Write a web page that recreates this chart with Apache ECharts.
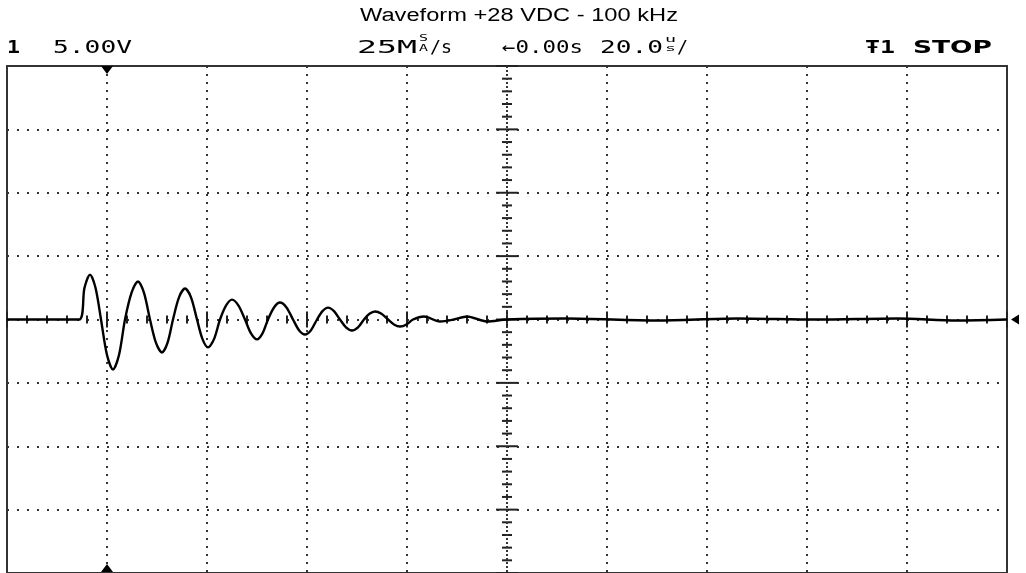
<!DOCTYPE html>
<html>
<head>
<meta charset="utf-8">
<title>Waveform +28 VDC - 100 kHz</title>
<script src="https://cdn.jsdelivr.net/npm/echarts@6/dist/echarts.min.js"></script>
<style>
  html, body { margin: 0; padding: 0; background: #fff; }
  #main { width: 1026px; height: 573px; }
</style>
</head>
<body>
<div id="main"></div>
<script>
// trace: time in microseconds, level in volts
const timeUs = [-100, -85.6, -84.5, -83.4, -82.3, -81.2, -80.0, -78.8, -77.6, -76.4,
  -75.1, -73.8, -72.6, -71.4, -70.2, -69.0, -67.9, -66.8, -65.6, -64.4,
  -63.2, -62.0, -60.9, -59.8, -58.6, -57.4, -56.2, -55.0, -53.7, -52.4,
  -51.2, -50.0, -48.9, -47.8, -46.6, -45.4, -44.1, -42.8, -41.6, -40.4,
  -39.2, -38.0, -36.9, -35.8, -34.6, -33.4, -32.2, -31.0, -29.8, -28.6,
  -27.5, -26.4, -25.1, -23.8, -22.6, -21.4, -20.1, -18.8, -16.6, -13.4,
  -10.6, -8.0, -4.0, 0, 12, 30, 46, 62, 78, 90, 100];
const voltsV = [0, 0, 2.5, 3.54, 2.5, 0, -2.8, -3.94, -2.8, 0,
  2.1, 3.0, 2.1, 0, -1.85, -2.6, -1.85, 0, 1.75, 2.44,
  1.75, 0, -1.55, -2.2, -1.55, 0, 1.1, 1.57, 1.1, 0,
  -1.1, -1.57, -1.1, 0, 0.95, 1.34, 0.95, 0, -0.84, -1.18,
  -0.84, 0, 0.66, 0.94, 0.66, 0, -0.62, -0.87, -0.62, 0,
  0.45, 0.63, 0.45, 0, -0.39, -0.55, -0.39, 0, 0.24, -0.16,
  0, 0.24, -0.16, 0, 0.08, -0.08, 0.08, 0, 0.08, -0.08, 0];

const usPerDiv = 20;
const voltsPerDiv = 5;
const xRange = [-100, 100];
const yRange = [-20, 20];
const triggerUs = -80;

// reticle marks on the centre axes, five per division
const reticle = [];
for (let t = xRange[0]; t <= xRange[1]; t += usPerDiv / 5) reticle.push([0, t]);
for (let v = yRange[0]; v <= yRange[1]; v += voltsPerDiv / 5) reticle.push([1, v]);
reticle.push([2, 0]);

const chart = echarts.init(document.getElementById('main'));

// text helpers: the scope font is wide, so stretch each piece to its span
const ctx = document.createElement('canvas').getContext('2d');
function stretched(text, left, right, midY, size, family, weight) {
  ctx.font = (weight || 'normal') + ' ' + size + 'px ' + family;
  const w = ctx.measureText(text).width;
  return {
    type: 'text', x: left, y: midY, scaleX: (right - left) / w, silent: true,
    style: {
      text: text, fill: '#000', fontSize: size, fontFamily: family, fontWeight: weight || 'normal',
      textAlign: 'left', align: 'left', textVerticalAlign: 'middle', verticalAlign: 'middle'
    }
  };
}
const mono = '"DejaVu Sans Mono", monospace';
const sans = '"Liberation Sans", Arial, sans-serif';

const graphics = [
  stretched('Waveform +28 VDC - 100 kHz', 360, 678, 16, 18, sans),
  stretched('1', 7, 20, 48.5, 18, mono, 'bold'),
  stretched('5.00V', 53, 132, 48.5, 18, mono),
  stretched('25M', 357, 417, 48.5, 18, mono),
  stretched('S', 419, 428, 38.5, 9, mono),
  stretched('A', 419, 428, 48.5, 9, mono),
  stretched('/s', 430, 452, 48.5, 18, mono),
  stretched('\u21900.00s', 502, 583, 48.5, 18, mono),
  stretched('20.0', 600, 663, 48.5, 18, mono),
  stretched('u', 665, 676, 40, 9, mono),
  stretched('s', 665, 676, 49, 9, mono),
  stretched('/', 677, 688, 48.5, 18, mono),
  stretched('\u01661', 865, 895, 48.5, 18, mono, 'bold'),
  stretched('STOP', 913, 992, 48.5, 18, '"DejaVu Sans", sans-serif', 'bold')
];

chart.setOption({
  animation: false,
  backgroundColor: '#fff',
  grid: {
    left: 7, top: 66, width: 1000, height: 508,
    show: true, borderColor: '#333', borderWidth: 2, backgroundColor: 'transparent'
  },
  xAxis: {
    type: 'value', min: xRange[0], max: xRange[1], interval: usPerDiv,
    axisLine: { show: false }, axisTick: { show: false }, axisLabel: { show: false },
    splitLine: { show: true, lineStyle: { color: '#333', width: 2, type: [2, 6] } }
  },
  yAxis: {
    type: 'value', min: yRange[0], max: yRange[1], interval: voltsPerDiv,
    axisLine: { show: false }, axisTick: { show: false }, axisLabel: { show: false },
    splitLine: { show: true, lineStyle: { color: '#333', width: 2, type: [2, 8] } }
  },
  graphic: graphics,
  series: [
    {
      type: 'custom',
      name: 'reticle',
      z: 2,
      silent: true,
      data: reticle,
      renderItem: function (params, api) {
        const kind = api.value(0);
        const val = api.value(1);
        if (kind === 0) {
          const p = api.coord([val, 0]);
          const h = Math.abs(val % usPerDiv) < 1e-6 ? 8 : 4;
          return { type: 'line', shape: { x1: p[0], y1: p[1] - h, x2: p[0], y2: p[1] + h },
            style: { stroke: '#222', lineWidth: 2 } };
        }
        if (kind === 1) {
          const p = api.coord([0, val]);
          const h = Math.abs(val % voltsPerDiv) < 1e-6 ? 11 : 5;
          return { type: 'line', shape: { x1: p[0] - h, y1: p[1], x2: p[0] + h, y2: p[1] },
            style: { stroke: '#222', lineWidth: 2 } };
        }
        const a = api.coord([0, yRange[1]]);
        const b = api.coord([0, yRange[0]]);
        return { type: 'line', shape: { x1: a[0], y1: a[1], x2: b[0], y2: b[1] },
          style: { stroke: '#333', lineWidth: 2, lineDash: [2, 2] } };
      }
    },
    {
      type: 'line',
      name: 'CH1',
      z: 3,
      data: timeUs.map((t, i) => [t, voltsV[i]]),
      showSymbol: false,
      smooth: 0.3,
      lineStyle: { color: '#000', width: 2.4 },
      markPoint: {
        silent: true,
        label: { show: false },
        itemStyle: { color: '#000' },
        data: [
          { coord: [triggerUs, yRange[1]], symbol: 'triangle', symbolRotate: 180, symbolSize: [12, 8], symbolOffset: [0, 4] },
          { coord: [triggerUs, yRange[0]], symbol: 'triangle', symbolSize: [12, 8], symbolOffset: [0, -5] },
          { coord: [xRange[1], 0], symbol: 'triangle', symbolRotate: 90, symbolSize: [10, 8], symbolOffset: [8, 0] }
        ]
      }
    }
  ]
});

window.addEventListener('resize', () => chart.resize());
</script>
</body>
</html>
